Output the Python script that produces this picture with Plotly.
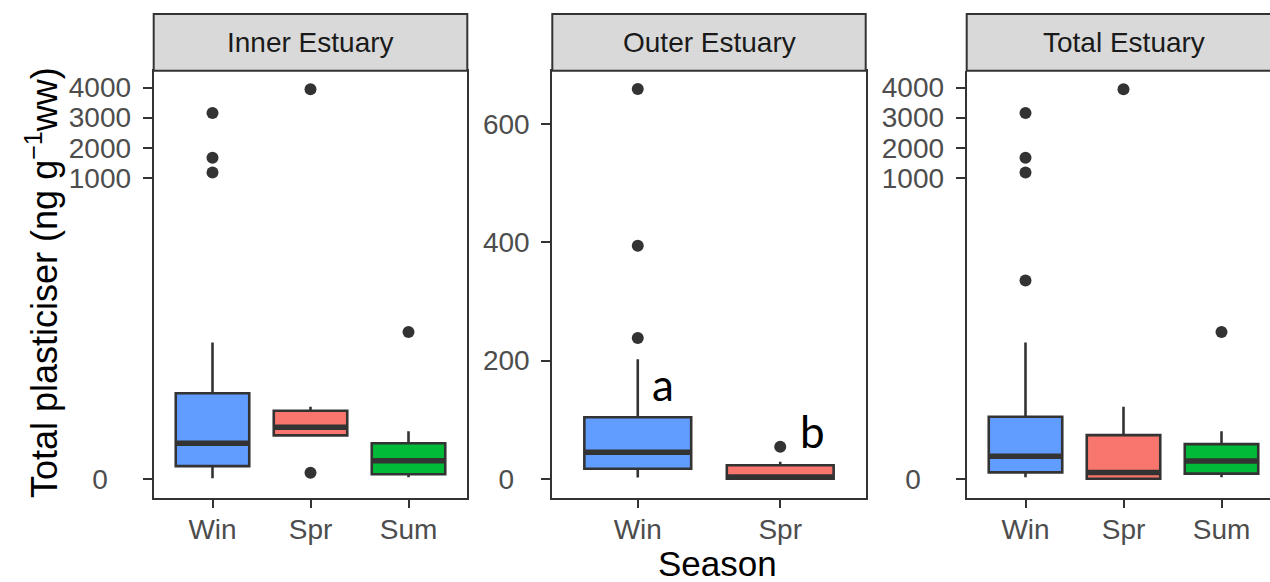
import plotly.graph_objects as go

# ---------------- data ----------------
seasons = ["Win", "Spr", "Sum"]
outer_seasons = ["Win", "Spr"]

inner_q1 = [42, 144, 15]
inner_med = [118, 171, 60]
inner_q3 = [284, 226, 118]
inner_lo = [2, 144, 5]
inner_hi = [453, 239, 158]
inner_out = {"Win": [1180, 1667, 3157], "Spr": [20, 3947], "Sum": [488]}

outer_q1 = [17, 0]
outer_med = [45, 3]
outer_q3 = [104, 23]
outer_lo = [2, 0]
outer_hi = [202, 29]
outer_out = {"Win": [238, 394, 659], "Spr": [54]}

total_q1 = [21, 0, 17]
total_med = [75, 21, 59]
total_q3 = [206, 145, 115]
total_lo = [5, 0, 5]
total_hi = [453, 239, 158]
total_out = {"Win": [659, 1180, 1667, 3157], "Spr": [3947], "Sum": [488]}

big_ticks = [0, 1000, 2000, 3000, 4000]
outer_ticks = [0, 200, 400, 600]

panel_titles = ["Inner Estuary", "Outer Estuary", "Total Estuary"]
letters = ["a", "b"]
letter_pos = [(1.18, 160), (2.23, 80)]

colors = {"Win": "#619CFF", "Spr": "#F8766D", "Sum": "#00BA38"}


def squish(v):
    # axis compressed 10x above 1000
    return v if v <= 1000 else 1000 + (v - 1000) / 10.0


W, H = 1270, 582
def px(x):
    return x / W
def py(y):
    return (H - y) / H

x_dom = [[px(153.7), px(467.3)], [px(552.3), px(865.7)], [px(966.7), 1.0]]
y_dom = [py(498.3), py(70.7)]

fig = go.Figure()

panels = [
    (seasons, inner_q1, inner_med, inner_q3, inner_lo, inner_hi, inner_out),
    (outer_seasons, outer_q1, outer_med, outer_q3, outer_lo, outer_hi, outer_out),
    (seasons, total_q1, total_med, total_q3, total_lo, total_hi, total_out),
]

BW = 0.75
for k, (cats, q1, med, q3, lo, hi, outs) in enumerate(panels):
    xa = "x" if k == 0 else f"x{k+1}"
    ya = "y" if k == 0 else f"y{k+1}"
    mx, my = [], []
    ox, oy = [], []
    for i, s in enumerate(cats):
        pos = i + 1
        fig.add_trace(go.Box(
            x=[pos], q1=[squish(q1[i])], median=[squish(med[i])], q3=[squish(q3[i])],
            lowerfence=[squish(lo[i])], upperfence=[squish(hi[i])],
            width=BW, whiskerwidth=0, fillcolor=colors[s],
            line=dict(color="#333333", width=2.6),
            boxpoints=False, hoverinfo="skip", showlegend=False,
            xaxis=xa, yaxis=ya,
        ))
        mx += [pos - BW / 2, pos + BW / 2, None]
        my += [squish(med[i]), squish(med[i]), None]
        for v in outs.get(s, []):
            ox.append(pos)
            oy.append(squish(v))
    fig.add_trace(go.Scatter(x=mx, y=my, mode="lines",
                             line=dict(color="#333333", width=5.5),
                             hoverinfo="skip", showlegend=False, xaxis=xa, yaxis=ya))
    fig.add_trace(go.Scatter(x=ox, y=oy, mode="markers",
                             marker=dict(color="#333333", size=12),
                             hoverinfo="skip", showlegend=False, xaxis=xa, yaxis=ya))

tick_font = dict(family="Liberation Sans, Arial, sans-serif", size=28, color="#4D4D4D")


def centered_labels(vals):
    labs = [str(v) for v in vals]
    n = max(len(s) for s in labs)
    # pad to centre labels (nbsp = half a digit width)
    return [s + "\u00a0" * (n - len(s)) for s in labs]


x_ranges = [[0.4, 3.6], [0.4, 2.6], [0.4, 0.4 + (1270 - 966.7) / 98.0]]
for k in range(3):
    cats = panels[k][0]
    key = "" if k == 0 else str(k + 1)
    fig.update_layout(**{
        f"xaxis{key}": dict(
            domain=x_dom[k], range=x_ranges[k], anchor=f"y{key}",
            tickmode="array", tickvals=list(range(1, len(cats) + 1)), ticktext=cats,
            ticks="outside", ticklen=8, tickwidth=2, tickcolor="#333333",
            tickfont=tick_font, showgrid=False, zeroline=False,
            showline=True, linecolor="#333333", linewidth=2,
            mirror=(k < 2), fixedrange=True, ticklabelstandoff=-3,
        ),
    })
    if k == 1:
        tv = outer_ticks
        tt = centered_labels(outer_ticks)
        yr = [-33, 690]
    else:
        tv = [squish(v) for v in big_ticks]
        tt = centered_labels(big_ticks)
        yr = [-65, 1356]
    fig.update_layout(**{
        f"yaxis{key}": dict(
            domain=y_dom, range=yr, anchor=f"x{key}",
            tickmode="array", tickvals=tv, ticktext=tt,
            ticks="outside", ticklen=9, tickwidth=2, tickcolor="#333333",
            tickfont=tick_font, showgrid=False, zeroline=False,
            showline=True, linecolor="#333333", linewidth=2,
            mirror=(k < 2), fixedrange=True, ticklabelstandoff=6,
        ),
    })

# strips
strip_x = [[px(153.7), px(467.3)], [px(552.3), px(865.7)], [px(966.7), px(1281)]]
for k, (x0, x1) in enumerate(strip_x):
    fig.add_shape(type="rect", xref="paper", yref="paper",
                  x0=x0, x1=x1, y0=py(70.7), y1=py(14),
                  fillcolor="#D9D9D9", line=dict(color="#333333", width=2), layer="above")
    fig.add_annotation(xref="paper", yref="paper", x=(x0 + x1) / 2, y=py(42.5),
                       text=panel_titles[k], showarrow=False,
                       xanchor="center", yanchor="middle",
                       font=dict(family="Liberation Sans, Arial, sans-serif", size=28, color="#1A1A1A"))

# axis titles
fig.add_annotation(xref="paper", yref="paper", x=px(42), y=py(283),
                   text="Total plasticiser (ng g<sup>\u22121</sup>ww)", textangle=-90,
                   showarrow=False, xanchor="center", yanchor="middle",
                   font=dict(family="Liberation Sans, Arial, sans-serif", size=36, color="black"))
fig.add_annotation(xref="paper", yref="paper", x=px(717), y=py(563),
                   text="Season", showarrow=False, xanchor="center", yanchor="middle",
                   font=dict(family="Liberation Sans, Arial, sans-serif", size=35, color="black"))

# significance letters
for lt, (lx, ly) in zip(letters, letter_pos):
    fig.add_annotation(xref="x2", yref="y2", x=lx, y=ly, text=lt, showarrow=False,
                       xanchor="center", yanchor="middle",
                       font=dict(family="Lato, Open Sans, sans-serif", size=44, color="black"))

fig.update_layout(width=W, height=H, margin=dict(l=0, r=0, t=0, b=0),
                  paper_bgcolor="white", plot_bgcolor="white", boxmode="overlay",
                  showlegend=False)

fig.write_html("out.html", config={"displayModeBar": False},
               post_script="document.body.style.margin='0px';document.body.style.overflow='hidden';")
